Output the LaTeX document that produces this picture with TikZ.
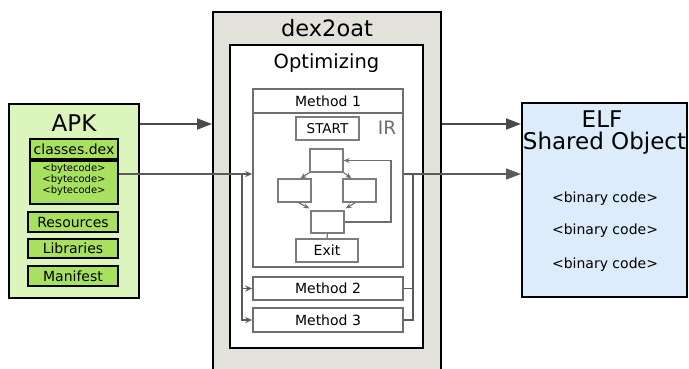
\documentclass[tikz,border=0pt]{standalone}
\usepackage{fontspec}
\setmainfont{DejaVu Sans}
\usetikzlibrary{arrows.meta,calc}
\definecolor{apkfill}{HTML}{DCF5BC}
\definecolor{dexboxfill}{HTML}{A8E060}
\definecolor{toolfill}{HTML}{E3E2DA}
\definecolor{elffill}{HTML}{DDECFA}
\definecolor{graybox}{HTML}{6E6E6E}
\definecolor{connline}{HTML}{5A5A5A}
\definecolor{bigarrowcol}{HTML}{4A4A4A}
\newcommand{\fsz}[1]{\fontsize{#1}{#1}\selectfont}
\tikzset{
  x=1pt, y=-1pt,
  outerbox/.style={draw=black, line width=2pt, rectangle, inner sep=0pt},
  greenbox/.style={draw=black, line width=1.6pt, fill=dexboxfill, rectangle, inner sep=0pt, font=\fsz{14}},
  methodbox/.style={draw=graybox, line width=1.6pt, fill=white, rectangle, inner sep=0pt, minimum width=150pt, font=\fsz{14}},
  irbox/.style={draw=graybox!90, line width=1.2pt, fill=white, rectangle, inner sep=0pt, minimum width=33pt},
  bigarrow/.style={draw=bigarrowcol, line width=1.8pt, -{Triangle[length=15pt,width=11pt]}},
  conn/.style={draw=connline, line width=1.3pt},
  smallarrow/.style={draw=connline, line width=1.3pt, -{Stealth[length=7pt,width=6pt]}},
  irarrow/.style={draw=graybox, line width=1.1pt, -{Stealth[length=6pt,width=5pt]}},
  title/.style={anchor=base, inner sep=0pt},
}
\begin{document}
\begin{tikzpicture}
\useasboundingbox (0,0) rectangle (689,368);
\clip (0,0) rectangle (689,368);

% APK
\node[outerbox, fill=apkfill, minimum width=130pt, minimum height=194pt] (apk) at (74,201) {};
\node[title, font=\fsz{23}] (apkt) at (74,131) {APK};
\node[greenbox, minimum width=88pt, minimum height=20pt] (classes) at (74,149) {classes.dex};
\node[greenbox, minimum width=88pt, minimum height=43pt] (bytecode) at (74,182.5) {};
\node[inner sep=0pt, align=center, font=\fontsize{10}{11}\selectfont] (bytecodet) at (74,179.4) {<bytecode>\\<bytecode>\\<bytecode>};
\node[greenbox, minimum width=90pt, minimum height=20pt] (resources) at (73,222) {Resources};
\node[greenbox, minimum width=90pt, minimum height=19pt] (libraries) at (73,248.5) {Libraries};
\node[greenbox, minimum width=90pt, minimum height=20pt] (manifest) at (73,276) {Manifest};

% dex2oat
\node[outerbox, fill=toolfill, minimum width=228pt, minimum height=380pt] (dex) at (327,202) {};
\node[title, font=\fsz{22.5}] (dext) at (327,36) {dex2oat};
\node[outerbox, fill=white, minimum width=193pt, minimum height=303pt] (opt) at (326.5,196.5) {};
\node[title, font=\fsz{19.5}] (optt) at (326.5,68) {Optimizing};

\node[methodbox, minimum height=24pt] (m1) at (328,101) {Method 1};
\node[methodbox, minimum height=154pt] (ir) at (328,190) {};
\node[title, font=\fsz{18.5}, text=graybox] (irt) at (387,134) {IR};
\node[irbox, minimum width=63pt, minimum height=23pt, font=\fsz{13.5}] (start) at (327.5,128.5) {START};
\node[irbox, minimum height=23pt] (b1) at (326.5,160.5) {};
\node[irbox, minimum height=23pt] (b2) at (294.5,190.5) {};
\node[irbox, minimum height=23pt] (b3) at (359.5,190.5) {};
\node[irbox, minimum height=22pt] (b4) at (327.5,222) {};
\node[irbox, minimum width=62pt, minimum height=23pt, font=\fsz{14}] (exit) at (327,250.5) {Exit};
\node[methodbox, minimum height=23pt] (m2) at (328,288.5) {Method 2};
\node[methodbox, minimum height=24pt] (m3) at (328,320) {Method 3};

% ELF
\node[outerbox, fill=elffill, minimum width=165pt, minimum height=194pt] (elf) at (604.5,200) {};
\node[title, font=\fsz{23}] (elft1) at (602,127) {ELF};
\node[title, font=\fsz{23}] (elft2) at (604.5,149) {Shared Object};
\node[title, font=\fsz{14}] (bin1) at (605,202) {<binary code>};
\node[title, font=\fsz{14}] (bin2) at (605,234) {<binary code>};
\node[title, font=\fsz{14}] (bin3) at (605,268) {<binary code>};

% IR graph
\draw[irarrow] (b1.south west) -- ($(b2.north)+(6,0)$);
\draw[irarrow] (b1.south east) -- ($(b3.north)+(-8,0)$);
\draw[irarrow] ($(b2.south)+(4,0)$) -- ($(b4.north west)+(-1,-2)$);
\draw[irarrow] ($(b3.south)+(-4,0)$) -- ($(b4.north east)+(1,-2)$);
\coordinate (lp) at (391,0);
\draw[irarrow] (b4.east) -| (lp |- b1.east) -- (b1.east);
\draw[graybox, line width=1.1pt] (b4.south) -- (exit.north);

% connectors
\coordinate (r1) at (0,124);
\coordinate (r2) at (0,174);
\draw[bigarrow] (apk.east |- r1) -- (dex.west |- r1);
\draw[bigarrow] (dex.east |- r1) -- (elf.west |- r1);
\draw[smallarrow] (bytecode.east |- r2) -- (ir.west |- r2);
\coordinate (lj) at (242,174);
\draw[smallarrow] (lj) |- (m2.west);
\draw[smallarrow] (lj) |- (m3.west);
\draw[bigarrow, draw=connline, line width=1.3pt] (ir.east |- r2) -- (elf.west |- r2);
\coordinate (rj) at (413,174);
\draw[conn] (m2.east) -| (rj);
\draw[conn] (m3.east) -| (rj);
\end{tikzpicture}
\end{document}
